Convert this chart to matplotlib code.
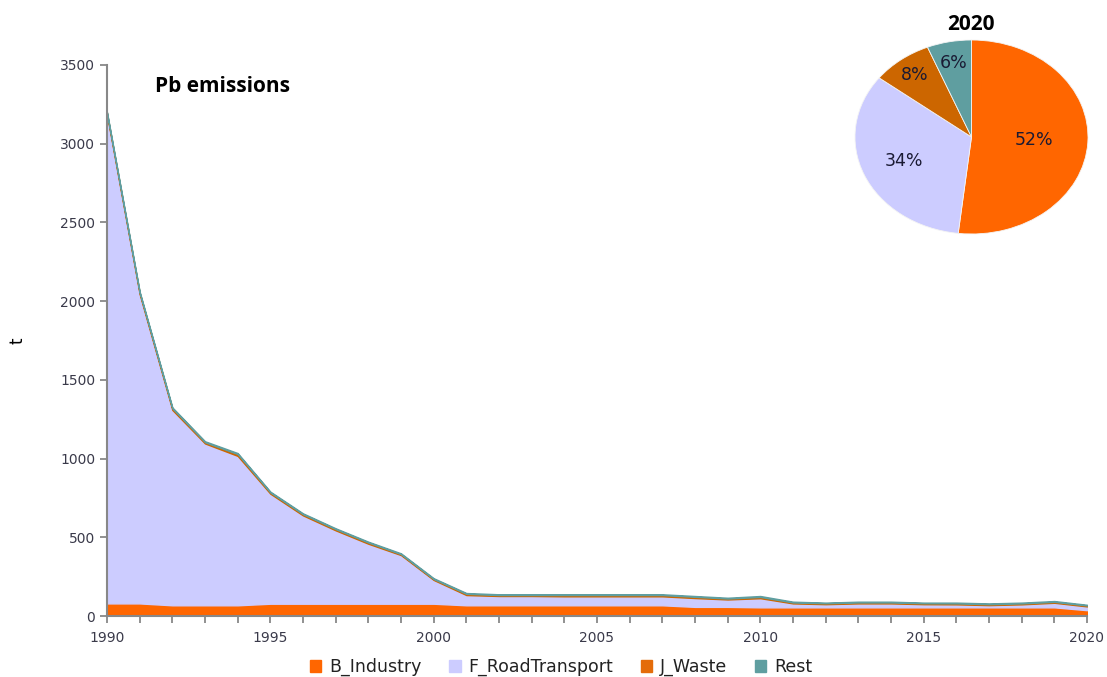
import numpy as np
import matplotlib
matplotlib.use("Agg")
import matplotlib.pyplot as plt
from matplotlib.ticker import MultipleLocator

years = list(range(1990, 2021))
industry = [80, 80, 68, 68, 68, 78, 78, 78, 78, 78, 78, 68, 68, 68, 68, 68,
            68, 68, 58, 58, 55, 55, 55, 55, 55, 55, 55, 55, 55, 55, 37]
road_transport = [3104, 1964, 1241, 1028, 949, 699, 561, 466, 381, 309, 151, 65,
                  59, 59, 57, 57, 57, 57, 56, 47, 58, 25, 20, 25, 25, 20, 19,
                  14, 19, 29, 24]
waste = [10, 10, 10, 8, 12, 8, 8, 8, 8, 6, 6, 8, 6, 6, 8, 8,
         8, 8, 8, 6, 8, 6, 6, 6, 6, 6, 6, 6, 6, 6, 6]
rest = [6, 6, 6, 6, 6, 5, 5, 5, 5, 5, 5, 5, 5, 5, 5, 5,
        5, 5, 5, 5, 6, 5, 4, 5, 5, 4, 5, 5, 5, 5, 4.4]
series_names = ["B_Industry", "F_RoadTransport", "J_Waste", "Rest"]
colors = ["#FF6600", "#CCCCFF", "#CC6600", "#5F9EA0"]
legend_colors = ["#FF6600", "#CCCCFF", "#E46C0A", "#5F9EA0"]
y_ticks = [0, 500, 1000, 1500, 2000, 2500, 3000, 3500]
x_labels = [1990, 1995, 2000, 2005, 2010, 2015, 2020]

pie_year = 2020
pie_idx = years.index(pie_year)
pie_values = [industry[pie_idx], road_transport[pie_idx], waste[pie_idx], rest[pie_idx]]

fig = plt.figure(figsize=(11.07, 6.77), dpi=100)
ax = fig.add_axes([107 / 1107, 61 / 677, 980 / 1107, 551 / 677])

polys = ax.stackplot(years, industry, road_transport, waste, rest,
                     colors=colors, labels=series_names)
for p, c in zip(polys, colors):
    p.set_edgecolor(c)
    p.set_linewidth(1.0)

ax.set_xlim(1990, 2020)
ax.set_ylim(0, 3500)
ax.set_yticks(y_ticks)
ax.set_xticks(x_labels)
ax.xaxis.set_minor_locator(MultipleLocator(1))
ax.tick_params(axis="both", which="major", labelsize=10, colors="#888888",
               labelcolor="#3a3a4a", length=5, width=1.3, direction="out")
ax.tick_params(axis="x", which="minor", length=5, width=1.3, color="#888888")
ax.tick_params(axis="x", pad=6)
for s in ["top", "right"]:
    ax.spines[s].set_visible(False)
for s in ["left", "bottom"]:
    ax.spines[s].set_color("#888888")
    ax.spines[s].set_linewidth(1.5)

ax.set_ylabel("t", fontsize=12, color="#000000", labelpad=24)

fig.text(155 / 1107, 1 - 86 / 677, "Pb emissions", fontsize=15, fontweight="bold",
         family="Open Sans", va="center", ha="left")

handles = [plt.Rectangle((0, 0), 1, 1, color=c) for c in legend_colors]
fig.legend(handles, series_names, loc="lower center", ncol=4, frameon=False,
           bbox_to_anchor=(0.507, -0.022), fontsize=12.5, handlelength=0.65,
           handleheight=0.65, handletextpad=0.45, columnspacing=1.6,
           labelcolor="#222222")

# 2020 share pie (inset)
pax = fig.add_axes([855 / 1107, 1 - 234 / 677, 233 / 1107, 194 / 677])
wedges, _ = pax.pie(pie_values, colors=colors, startangle=90, counterclock=False,
                    wedgeprops=dict(linewidth=0.6, edgecolor="#f4f4f4"))
pax.set_aspect("auto")
pax.set_xlim(-1, 1)
pax.set_ylim(-1, 1)
total = sum(pie_values)
label_r = [0.54, 0.63, 0.81, 0.78]
for w, v, r in zip(wedges, pie_values, label_r):
    ang = np.deg2rad((w.theta1 + w.theta2) / 2)
    pax.text(r * np.cos(ang), r * np.sin(ang), f"{round(100 * v / total)}%",
             ha="center", va="center", fontsize=12.5, color="#1a1a33")
fig.text(971 / 1107, 1 - 24 / 677, str(pie_year), fontsize=15, fontweight="bold",
         family="Open Sans", ha="center", va="center")

fig.savefig("out.png", dpi=100)
